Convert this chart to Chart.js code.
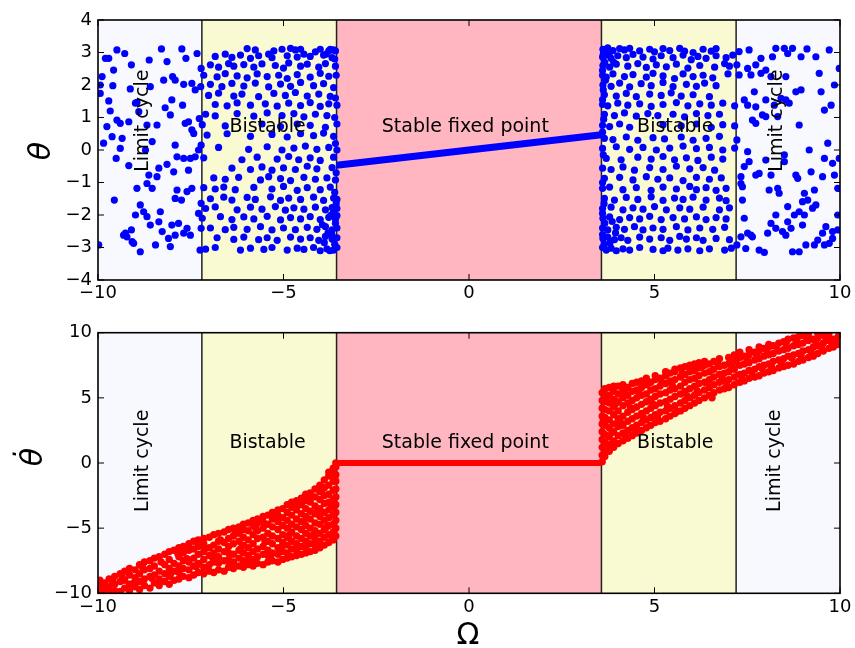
<!DOCTYPE html>
<html>
<head>
<meta charset="utf-8">
<script src="https://cdn.jsdelivr.net/npm/chart.js@4.4.1/dist/chart.umd.min.js"></script>
<style>
  html, body { margin: 0; padding: 0; background: #fff; }
  #wrap { position: relative; width: 855px; height: 648px; }
  canvas { position: absolute; left: 0; }
  #top { top: 0; }
  #bottom { top: 312px; }
</style>
</head>
<body>
<div id="wrap">
  <canvas id="top" width="855" height="312"></canvas>
  <canvas id="bottom" width="855" height="336"></canvas>
</div>
<script>
// regions along Omega
const regionEdges = [-10, -7.2, -3.57, 3.57, 7.2, 10];
const regionNames = ["Limit cycle", "Bistable", "Stable fixed point", "Bistable", "Limit cycle"];

const omegaTicks = [-10, -5, 0, 5, 10];
const thetaTicks = [-4, -3, -2, -1, 0, 1, 2, 3, 4];
const thetaDotTicks = [-10, -5, 0, 5, 10];

// top panel: theta as [Omega, theta]
const thetaLimitLeft = [
  [-9.80,2.82],[-9.71,2.82],[-9.49,3.08],[-9.28,2.97],[-9.10,2.62],[-8.62,2.77],[-8.29,3.11],[-8.14,2.72],[-7.74,3.11],[-7.63,2.82],[-7.33,2.97],[-7.22,2.51],
  [-9.89,2.26],[-9.58,2.46],[-9.94,2.00],[-9.60,1.98],[-9.13,1.88],[-8.95,1.47],[-8.59,1.95],[-8.23,2.15],[-7.99,2.26],[-7.92,2.15],[-7.69,2.02],[-7.47,2.05],[-7.38,1.85],[-7.23,1.95],
  [-9.71,1.51],[-9.67,1.20],[-9.94,1.74],[-9.17,0.87],[-9.49,0.92],[-9.40,0.82],[-9.76,0.72],[-9.85,0.21],[-9.62,0.41],[-9.35,0.36],[-9.40,0.05],[-9.51,-0.26],[-9.17,-0.48],
  [-8.99,1.44],[-8.68,0.77],[-8.41,0.77],[-8.19,1.30],[-8.01,1.54],[-8.05,1.08],[-7.72,1.38],[-7.65,0.82],[-7.56,0.87],[-7.42,0.51],[-7.47,0.62],[-7.27,0.97],
  [-8.90,1.18],[-8.54,0.26],[-8.72,0.00],[-8.36,-0.56],[-8.63,-0.77],[-8.41,-0.82],[-8.14,-0.44],[-7.96,-0.67],[-7.92,0.15],[-7.87,-0.21],[-7.69,-0.26],[-7.51,-0.26],
  [-7.38,-0.21],[-7.29,0.00],[-7.56,-0.62],[-7.47,-1.18],[-7.60,-1.28],[-7.87,-1.23],[-7.92,-1.49],[-7.75,-1.54],
  [-9.56,-1.54],[-8.95,-1.18],[-8.68,-1.03],[-8.54,-1.18],[-8.86,-1.69],[-8.77,-1.90],[-8.99,-2.00],[-8.68,-2.05],[-8.59,-2.31],[-8.32,-1.90],[-8.36,-2.21],[-8.27,-2.51],
  [-8.01,-2.31],[-7.83,-2.26],[-7.92,-2.62],[-7.69,-2.56],[-7.51,-2.62],[-7.60,-2.41],
  [-9.31,-2.62],[-9.26,-2.56],[-9.22,-2.67],[-9.10,-2.46],[-9.04,-2.87],[-9.08,-2.82],[-8.86,-3.13],[-8.45,-2.92],[-8.05,-2.97],[-8.10,-2.72],[-9.98,-2.92],
  [-7.22,0.15],[-7.22,-1.64],[-7.29,-1.95],[-7.22,-2.41],[-7.25,-3.08]
];

const thetaBistableLeft = [
  [-5.98,3.12],[-5.76,3.08],[-5.26,3.05],[-5.04,3.10],[-4.81,3.13],[-4.68,3.08],[-4.54,3.10],[-4.14,3.02],[-4.01,3.10],[-3.78,3.05],[-3.65,3.08],
  [-6.84,2.88],[-6.57,2.95],[-6.39,2.85],[-6.16,2.92],[-5.89,2.82],[-5.67,2.90],[-5.40,2.95],[-5.31,2.84],[-4.90,2.90],[-4.63,2.86],[-4.45,2.95],[-4.28,2.88],[-3.92,2.92],[-3.69,2.84],
  [-6.97,2.62],[-6.75,2.55],[-6.48,2.66],[-6.34,2.58],[-6.07,2.63],[-5.80,2.55],[-5.58,2.65],[-5.22,2.60],[-5.00,2.52],[-4.86,2.68],[-4.54,2.58],[-4.36,2.64],[-4.05,2.55],[-3.87,2.66],[-3.60,2.58],
  [-7.15,2.30],[-6.79,2.25],[-6.57,2.35],[-6.25,2.28],[-5.98,2.22],[-5.71,2.34],[-5.44,2.26],[-5.13,2.30],[-4.90,2.20],[-4.63,2.32],[-4.28,2.24],[-4.01,2.36],[-3.78,2.27],
  [-6.97,2.02],[-6.66,1.95],[-6.39,2.05],[-6.07,1.97],[-5.76,2.06],[-5.40,1.94],[-5.08,2.03],[-4.81,1.96],[-4.54,2.08],[-4.19,1.98],[-3.92,2.04],[-3.65,1.92],
  [-7.02,1.68],[-6.75,1.75],[-6.34,1.66],[-6.12,1.72],[-5.67,1.64],[-5.26,1.74],[-4.95,1.68],[-4.68,1.77],[-4.36,1.66],[-4.05,1.72],[-3.74,1.65],
  [-6.84,1.40],[-6.52,1.36],[-6.25,1.45],[-5.89,1.38],[-5.49,1.42],[-5.17,1.35],[-4.86,1.44],[-4.54,1.37],[-4.28,1.46],[-4.01,1.34],[-3.78,1.42],[-3.56,1.38],
  [-7.10,1.10],[-6.84,1.05],[-6.25,1.12],[-5.80,1.04],[-5.44,1.14],[-5.04,1.06],[-4.72,1.12],[-4.45,1.02],[-4.14,1.10],[-3.83,1.06],
  [-7.19,0.78],[-6.57,0.74],[-5.58,0.80],[-5.08,0.72],[-4.63,0.80],[-4.28,0.76],[-3.87,0.70],[-3.56,0.80],
  [-7.06,0.46],[-6.52,0.50],[-5.89,0.42],[-5.31,0.48],[-4.90,0.40],[-4.54,0.50],[-4.19,0.44],[-3.92,0.52],[-3.65,0.42],
  [-6.75,0.08],[-5.94,0.02],[-5.44,0.10],[-5.04,0.00],[-4.72,0.06],[-4.41,0.12],[-4.10,0.02],[-3.78,0.08],[-3.56,0.00],
  [-7.15,-0.24],[-6.12,-0.30],[-5.71,-0.22],[-5.17,-0.28],[-4.86,-0.20],[-4.59,-0.30],[-4.28,-0.24],[-4.01,-0.32],[-3.65,-0.22],
  [-6.39,-0.56],[-5.89,-0.60],[-5.58,-0.52],[-5.31,-0.62],[-5.00,-0.55],[-4.68,-0.60],[-4.36,-0.50],[-4.10,-0.58],[-3.69,-0.54],
  [-6.88,-0.86],[-6.57,-0.90],[-6.21,-0.84],[-5.62,-0.92],[-5.40,-0.82],[-5.08,-0.88],[-4.81,-0.94],[-4.45,-0.84],[-4.14,-0.90],[-3.83,-0.86],[-3.60,-0.92],
  [-7.15,-1.16],[-6.84,-1.20],[-6.61,-1.14],[-6.30,-1.22],[-5.80,-1.15],[-5.31,-1.20],[-5.00,-1.12],[-4.63,-1.24],[-4.36,-1.16],[-4.01,-1.22],[-3.74,-1.14],
  [-6.97,-1.50],[-6.61,-1.45],[-6.39,-1.54],[-5.98,-1.46],[-5.76,-1.52],[-5.35,-1.44],[-5.08,-1.55],[-4.86,-1.48],[-4.54,-1.52],[-4.19,-1.45],[-3.92,-1.55],[-3.65,-1.48],[-3.56,-1.52],
  [-7.10,-1.80],[-6.84,-1.75],[-6.25,-1.84],[-5.89,-1.76],[-5.58,-1.82],[-5.22,-1.74],[-4.95,-1.85],[-4.72,-1.78],[-4.45,-1.82],[-4.14,-1.76],[-3.87,-1.84],[-3.69,-1.77],[-3.56,-1.80],
  [-7.19,-2.10],[-6.70,-2.05],[-6.39,-2.14],[-6.07,-2.06],[-5.80,-2.12],[-5.44,-2.04],[-5.08,-2.15],[-4.81,-2.08],[-4.54,-2.12],[-4.28,-2.05],[-4.01,-2.14],[-3.78,-2.07],[-3.60,-2.12],[-3.56,-2.02],
  [-6.97,-2.40],[-6.57,-2.45],[-6.34,-2.38],[-5.98,-2.44],[-5.62,-2.36],[-5.31,-2.46],[-5.00,-2.40],[-4.68,-2.45],[-4.36,-2.38],[-4.10,-2.44],[-3.87,-2.36],[-3.69,-2.46],[-3.56,-2.40],
  [-6.79,-2.70],[-6.34,-2.75],[-6.07,-2.68],[-5.67,-2.76],[-5.44,-2.70],[-5.17,-2.78],[-4.81,-2.68],[-4.54,-2.74],[-4.28,-2.70],[-4.05,-2.78],[-3.87,-2.66],[-3.69,-2.74],[-3.56,-2.70],
  [-7.10,-3.05],[-6.84,-3.00],[-6.16,-3.08],[-5.89,-3.02],[-5.53,-3.06],[-5.31,-3.00],[-4.90,-3.08],[-4.63,-3.02],[-4.45,-3.06],[-4.19,-3.00],[-4.01,-3.10],[-3.83,-3.04],[-3.65,-3.08],[-3.56,-3.00],
  [-3.62,-2.90],[-3.70,-2.60],[-3.60,-2.25],[-3.66,-1.95],[-3.58,-1.65],[-3.62,-1.30],[-3.58,-0.70],[-3.60,0.20],[-3.62,1.00],[-3.60,1.60],[-3.58,2.30],[-3.62,2.80],
  [-3.60,3.05],[-3.75,-3.10],[-3.90,-2.85],[-3.80,-2.55],[-3.95,-2.30],[-3.72,-2.00],[-3.85,2.95],[-3.74,3.10]
];

const thetaBistableRight = [
  [3.61,3.10],[3.74,3.14],[3.88,3.06],[4.06,3.12],[4.19,3.08],[4.33,3.13],[4.60,3.05],[4.87,3.10],[5.00,3.02],[5.23,3.12],[5.41,3.06],[5.68,3.13],[5.81,3.04],[6.04,3.00],[6.31,3.10],[6.53,3.04],[6.66,3.12],
  [3.60,2.86],[3.70,2.92],[3.83,2.82],[4.01,2.90],[4.24,2.84],[4.42,2.94],[4.69,2.86],[4.96,2.80],[5.18,2.90],[5.50,2.84],[5.77,2.92],[5.99,2.78],[6.17,2.88],[6.39,2.82],[6.66,2.90],[6.93,2.84],[7.11,2.92],
  [3.61,2.60],[3.79,2.55],[3.97,2.64],[4.28,2.58],[4.55,2.66],[4.78,2.54],[5.05,2.62],[5.32,2.56],[5.59,2.64],[5.90,2.52],[6.22,2.60],[6.62,2.55],[6.89,2.66],[7.02,2.58],
  [3.60,2.30],[3.70,2.24],[3.88,2.34],[4.19,2.26],[4.42,2.32],[4.78,2.24],[4.96,2.36],[5.23,2.28],[5.54,2.20],[5.77,2.34],[6.04,2.26],[6.31,2.30],[6.57,2.22],[6.98,2.34],
  [3.61,2.00],[3.83,1.96],[4.06,2.06],[4.33,1.94],[4.64,2.04],[4.91,1.98],[5.23,2.08],[5.50,1.95],[5.86,2.02],[6.13,1.96],[6.35,2.06],[6.66,1.98],
  [3.65,1.70],[3.97,1.66],[4.24,1.74],[4.51,1.64],[4.87,1.72],[5.18,1.68],[5.45,1.76],[5.72,1.66],[6.04,1.70],[6.48,1.64],
  [3.60,1.40],[3.74,1.36],[4.01,1.44],[4.28,1.38],[4.60,1.42],[4.91,1.34],[5.23,1.40],[5.59,1.46],[5.90,1.36],[6.22,1.42],[6.53,1.38],[6.84,1.44],[7.16,1.36],
  [3.65,1.10],[3.92,1.06],[4.19,1.14],[4.51,1.04],[4.82,1.12],[5.09,1.06],[5.50,1.10],[5.81,1.02],[6.13,1.12],[6.44,1.06],[6.75,1.10],
  [3.60,0.76],[3.79,0.72],[4.06,0.80],[4.33,0.70],[5.23,0.78],[5.72,0.74],[6.13,0.80],[6.53,0.70],[6.84,0.78],[7.16,0.74],
  [3.65,0.36],[3.88,0.32],[4.24,0.40],[4.55,0.30],[4.96,0.38],[5.27,0.34],[5.72,0.40],[6.04,0.30],[6.39,0.36],[6.75,0.42],
  [3.60,0.05],[3.97,0.10],[4.33,0.02],[4.69,0.08],[5.05,0.00],[5.41,0.06],[5.77,0.12],[6.13,0.04],[6.48,0.08],[6.84,0.00],[7.16,0.06],
  [3.70,-0.26],[4.10,-0.30],[4.55,-0.22],[4.91,-0.28],[5.23,-0.20],[5.54,-0.30],[5.86,-0.24],[6.17,-0.32],[6.53,-0.22],[6.84,-0.28],
  [3.60,-0.56],[3.83,-0.60],[4.15,-0.52],[4.46,-0.62],[4.87,-0.54],[5.23,-0.60],[5.59,-0.50],[5.95,-0.58],[6.31,-0.54],[6.62,-0.62],
  [3.65,-0.87],[4.06,-0.84],[4.42,-0.92],[4.78,-0.82],[5.09,-0.90],[5.41,-0.86],[5.77,-0.94],[6.13,-0.84],[6.48,-0.90],[6.80,-0.86],
  [3.60,-1.18],[3.79,-1.14],[4.15,-1.22],[4.51,-1.16],[4.91,-1.24],[5.23,-1.14],[5.59,-1.20],[5.95,-1.12],[6.13,-1.22],[6.39,-1.16],[6.66,-1.24],[6.93,-1.18],
  [3.65,-1.49],[3.92,-1.54],[4.24,-1.46],[4.55,-1.52],[4.91,-1.44],[5.23,-1.55],[5.54,-1.48],[5.77,-1.52],[6.04,-1.45],[6.39,-1.54],[6.75,-1.48],[6.93,-1.56],
  [3.60,-1.80],[3.83,-1.76],[4.15,-1.84],[4.42,-1.78],[4.69,-1.82],[5.00,-1.74],[5.32,-1.84],[5.68,-1.78],[5.95,-1.82],[6.31,-1.76],[6.75,-1.84],[7.02,-1.78],
  [3.61,-2.10],[3.79,-2.06],[4.06,-2.14],[4.33,-2.08],[4.60,-2.12],[4.87,-2.04],[5.18,-2.14],[5.50,-2.08],[5.81,-2.12],[6.13,-2.06],[6.39,-2.14],[6.66,-2.08],[6.93,-2.12],
  [3.60,-2.40],[3.74,-2.46],[3.97,-2.38],[4.19,-2.44],[4.46,-2.36],[4.69,-2.46],[4.96,-2.40],[5.23,-2.44],[5.59,-2.36],[5.90,-2.46],[6.22,-2.40],[6.57,-2.44],[6.89,-2.38],
  [3.61,-2.72],[3.74,-2.68],[3.92,-2.76],[4.10,-2.70],[4.28,-2.78],[4.60,-2.68],[4.87,-2.74],[5.18,-2.70],[5.41,-2.78],[5.68,-2.66],[5.86,-2.74],[6.13,-2.70],[6.31,-2.78],[6.66,-2.72],[7.02,-2.76],
  [3.60,-3.00],[3.70,-3.08],[3.83,-3.02],[3.97,-3.10],[4.15,-3.04],[4.33,-3.08],[4.60,-3.00],[4.96,-3.06],[5.23,-3.10],[5.36,-3.02],[5.63,-3.08],[5.90,-3.04],[6.22,-3.10],[6.48,-3.04],[6.89,-3.08],[7.07,-3.02],
  [3.62,2.95],[3.66,2.70],[3.60,2.45],[3.68,2.15],[3.62,1.85],[3.60,1.55],[3.63,0.95],[3.60,0.55],[3.62,-0.15],[3.60,-1.00],[3.64,-1.65],[3.60,-1.95],[3.66,-2.25],
  [3.60,-2.60],[3.65,-2.90],[3.78,2.98],[3.90,2.70],[3.80,-2.85],[3.95,-2.55],[3.86,-2.20]
];

const thetaLimitRight = [
  [7.28,3.03],[7.55,3.08],[7.73,2.62],[7.87,2.82],[8.00,2.46],[8.18,2.87],[8.27,3.13],[8.50,3.13],[8.59,2.97],[8.72,3.13],[8.95,2.87],[9.11,3.11],[9.35,2.87],[9.71,3.08],[9.98,2.51],[7.22,2.62],
  [7.51,2.51],[7.60,2.31],[7.28,2.31],[7.87,2.36],[8.14,2.26],[8.54,2.26],[8.95,1.85],[8.81,1.79],[9.44,2.36],[9.49,1.79],[9.85,2.00],
  [7.42,1.54],[7.51,1.38],[7.69,1.79],[7.73,1.33],[8.00,1.54],[8.23,1.38],[8.54,1.54],[8.63,1.44],[8.41,1.59],
  [7.64,0.92],[7.73,0.82],[7.91,1.08],[8.00,1.03],[8.32,1.03],[8.90,0.77],[9.58,1.23],[9.76,1.38],
  [7.22,0.31],[7.51,-0.05],[7.55,-0.36],[7.42,-0.51],[7.33,-0.82],[8.00,-0.31],[8.50,-0.15],[8.50,-0.36],[9.17,0.00],[9.67,0.21],[9.58,-0.26],[9.80,-0.41],[9.98,-0.26],
  [7.82,-0.72],[7.73,-0.77],[8.14,-0.77],[8.81,-0.77],[8.86,-0.87],[9.22,-0.67],[9.53,-0.82],[9.85,-0.77],[7.33,-1.03],[7.37,-1.13],
  [8.09,-1.23],[8.32,-1.18],[8.36,-1.33],[9.04,-1.33],[9.31,-1.23],[8.99,-1.59],[9.13,-1.54],[9.26,-1.79],[9.35,-1.69],[9.94,-1.18],
  [7.37,-1.54],[7.42,-2.10],[8.27,-2.00],[8.59,-1.74],[8.77,-2.00],[8.90,-1.90],[9.04,-2.00],[8.99,-2.31],[8.59,-2.21],[8.68,-2.41],[8.14,-2.26],[8.27,-2.41],
  [7.33,-2.67],[7.60,-2.62],[7.51,-2.56],[7.64,-2.67],[8.05,-2.56],[8.45,-2.51],[8.54,-2.62],[9.53,-2.56],[9.80,-2.51],[9.62,-2.36],[9.94,-2.00],[9.94,-2.46],
  [7.46,-3.03],[7.82,-3.08],[7.96,-3.15],[8.72,-3.13],[8.90,-3.13],[9.08,-2.92],[9.31,-2.92],[9.40,-2.77],[9.58,-2.92],[9.71,-2.87],[9.80,-2.72],[7.22,-2.92]
];

// stable fixed point branch
const thetaStable = [[-3.57,-0.47],[0,0],[3.57,0.47]];
const thetaDotStable = [[-3.57,0],[3.57,0]];

// bottom panel: theta dot, columns of [Omega, [values...]]
const thetaDotLeft = [
  [-9.95,[-9.9,-9.4,-9.0]],[-9.82,[-9.7,-9.2]],[-9.70,[-9.95,-9.5,-8.9]],[-9.55,[-9.8,-9.3,-8.7]],
  [-9.40,[-9.85,-9.1,-8.5]],[-9.28,[-9.6,-9.0,-8.3]],[-9.15,[-9.8,-9.3,-8.6,-8.1]],[-9.00,[-9.5,-8.8,-8.2]],
  [-8.88,[-9.7,-9.1,-8.5,-7.8]],[-8.75,[-9.4,-8.9,-8.2,-7.6]],[-8.60,[-9.6,-8.7,-8.1,-7.5]],[-8.48,[-9.2,-8.6,-7.9,-7.3]],
  [-8.35,[-9.4,-8.9,-8.3,-7.2]],[-8.20,[-9.1,-8.5,-7.8,-7.0]],[-8.08,[-9.3,-8.7,-8.1,-7.4,-6.8]],[-7.95,[-9.0,-8.3,-7.7,-6.7]],
  [-7.82,[-8.9,-8.4,-7.9,-7.2,-6.5]],[-7.70,[-8.7,-8.1,-7.5,-6.9,-6.4]],[-7.55,[-8.8,-8.2,-7.6,-6.7,-6.2]],[-7.42,[-8.6,-7.9,-7.3,-6.6,-6.0]],
  [-7.30,[-8.4,-7.7,-7.0,-6.4,-5.9]],[-7.15,[-8.5,-8.0,-7.4,-6.8,-6.2,-5.8]],[-7.00,[-8.3,-7.8,-7.1,-6.5,-5.7]],[-6.88,[-8.4,-7.6,-6.9,-6.3,-5.5]],
  [-6.75,[-8.2,-7.7,-7.2,-6.6,-6.0,-5.4]],[-6.60,[-8.3,-7.5,-6.8,-6.1,-5.3]],[-6.48,[-8.0,-7.4,-6.9,-6.4,-5.8,-5.1]],[-6.35,[-8.1,-7.6,-7.0,-6.2,-5.6,-5.0]],
  [-6.20,[-7.9,-7.3,-6.7,-6.0,-5.4,-4.9]],[-6.08,[-8.0,-7.5,-6.9,-6.3,-5.7,-5.1,-4.7]],[-5.95,[-7.8,-7.1,-6.5,-5.9,-5.2,-4.6]],[-5.82,[-7.9,-7.4,-6.8,-6.2,-5.5,-4.8,-4.4]],
  [-5.70,[-7.7,-7.2,-6.6,-5.8,-5.2,-4.6,-4.3]],[-5.55,[-7.8,-7.0,-6.4,-5.7,-5.0,-4.5,-4.1]],[-5.42,[-7.6,-7.1,-6.7,-6.0,-5.4,-4.7,-4.0]],[-5.30,[-7.5,-6.9,-6.2,-5.6,-4.9,-4.3,-3.8]],
  [-5.15,[-7.6,-7.0,-6.5,-5.8,-5.1,-4.5,-4.0,-3.6]],[-5.02,[-7.4,-6.8,-6.1,-5.5,-4.8,-4.2,-3.5]],[-4.90,[-7.3,-6.9,-6.3,-5.7,-5.0,-4.4,-3.8,-3.2]],[-4.78,[-7.2,-6.6,-6.0,-5.3,-4.7,-4.0,-3.4,-3.0]],
  [-4.65,[-7.1,-6.7,-6.2,-5.6,-4.9,-4.3,-3.6,-2.9]],[-4.52,[-7.0,-6.4,-5.8,-5.1,-4.5,-3.9,-3.2,-2.7]],[-4.40,[-6.9,-6.5,-6.0,-5.4,-4.8,-4.1,-3.5,-2.9,-2.4]],[-4.28,[-6.8,-6.2,-5.6,-5.0,-4.3,-3.7,-3.0,-2.3]],
  [-4.15,[-6.7,-6.3,-5.8,-5.2,-4.6,-3.9,-3.3,-2.6,-2.0]],[-4.02,[-6.5,-6.0,-5.4,-4.7,-4.1,-3.5,-2.8,-2.2,-1.7]],[-3.90,[-6.3,-5.7,-5.1,-4.4,-3.8,-3.1,-2.5,-1.9,-1.3]],
  [-3.78,[-6.1,-5.5,-4.8,-4.2,-3.6,-3.0,-2.4,-1.7,-1.0,-0.7]],[-3.66,[-5.9,-5.3,-4.7,-4.0,-3.4,-2.8,-2.1,-1.4,-0.8,-0.4]],[-3.59,[-5.6,-5.0,-4.4,-3.8,-3.2,-2.6,-2.0,-1.4,-0.9,-0.3,0.0]]
];
const thetaDotLeftLoose = [
  [-9.60,-9.1],[-9.35,-8.7],[-9.05,-9.25],[-8.80,-8.0],[-8.55,-8.85],[-8.30,-7.6],[-8.05,-8.55],[-7.85,-6.95],[-7.60,-7.35],[-7.35,-7.95],[-7.10,-6.55],
  [-6.90,-7.35],[-6.70,-5.9],[-6.45,-7.65],[-6.30,-5.35],[-6.15,-6.55],[-5.90,-7.45],[-5.75,-5.0],[-5.50,-6.05],[-5.35,-7.2],[-5.20,-4.3],[-5.05,-6.45],
  [-4.85,-5.55],[-4.70,-3.3],[-4.60,-6.45],[-4.45,-4.55],[-4.33,-2.65],[-4.20,-5.55],[-4.08,-3.65],[-3.95,-2.0],[-3.85,-4.95],[-3.72,-3.3],[-3.62,-1.15],[-3.70,-5.65]
];

const thetaDotRight = [
  [3.59,[0.1,0.6,1.2,1.8,2.4,3.0,3.6,4.2,4.8,5.4]],[3.66,[0.5,1.0,1.6,2.2,2.9,3.5,4.1,4.7,5.3,5.7]],[3.78,[0.9,1.4,2.0,2.7,3.3,4.0,4.6,5.2,5.8]],
  [3.90,[1.2,1.7,2.4,3.0,3.7,4.3,4.9,5.5,5.9]],[4.02,[1.5,2.1,2.8,3.4,4.0,4.7,5.3,5.9]],[4.15,[1.7,2.3,2.9,3.6,4.4,5.0,5.6,6.0]],
  [4.28,[1.9,2.5,3.2,3.9,4.6,5.2,5.8]],[4.40,[2.1,2.7,3.4,4.1,4.8,5.5,6.1]],[4.52,[2.3,2.9,3.6,4.3,5.0,5.6,6.2]],
  [4.65,[2.5,3.1,3.8,4.5,5.2,5.8,6.3]],[4.78,[2.7,3.3,4.0,4.7,5.3,6.0,6.5]],[4.90,[2.9,3.5,4.2,4.9,5.6,6.2]],
  [5.02,[3.1,3.7,4.4,5.1,5.7,6.4,6.7]],[5.15,[3.2,3.9,4.6,5.3,5.9,6.5]],[5.30,[3.4,4.0,4.7,5.4,6.1,6.7,7.0]],
  [5.42,[3.6,4.2,4.9,5.6,6.3,6.9]],[5.55,[3.8,4.4,5.1,5.7,6.4,7.0,7.2]],[5.70,[4.0,4.6,5.3,5.9,6.6,7.3]],
  [5.82,[4.2,4.8,5.5,6.2,6.8,7.4]],[5.95,[4.4,5.0,5.7,6.4,7.0,7.5]],[6.08,[4.6,5.2,5.9,6.5,7.1,7.6]],
  [6.20,[4.8,5.4,6.1,6.7,7.3,7.7]],[6.35,[5.0,5.6,6.2,6.9,7.5,7.8]],[6.48,[5.2,5.8,6.4,7.0,7.6]],
  [6.60,[5.4,6.0,6.6,7.2,7.8]],[6.75,[5.6,6.2,6.8,7.4,8.0]],[6.88,[5.7,6.3,6.9,7.5]],
  [7.00,[5.8,6.4,7.0,7.6,8.1]],[7.15,[6.0,6.6,7.2,7.8,8.3]],[7.30,[6.2,6.8,7.5,8.1,8.5]],
  [7.42,[6.3,6.9,7.6,8.2]],[7.55,[6.5,7.1,7.7,8.3,8.7]],[7.70,[6.6,7.2,7.9,8.5]],
  [7.82,[6.7,7.4,8.0,8.6,8.9]],[7.95,[6.9,7.5,8.2,8.8]],[8.08,[7.0,7.6,8.3,8.9,9.1]],
  [8.20,[7.1,7.8,8.4,9.0]],[8.35,[7.3,7.9,8.6,9.2]],[8.48,[7.4,8.0,8.7,9.3]],
  [8.60,[7.5,8.2,8.8,9.5]],[8.75,[7.6,8.3,9.0,9.6]],[8.88,[7.8,8.4,9.1,9.7]],
  [9.00,[7.9,8.6,9.2,9.8]],[9.15,[8.1,8.7,9.4,9.9]],[9.28,[8.2,8.9,9.5]],
  [9.40,[8.4,9.0,9.6,9.95]],[9.55,[8.6,9.2,9.8]],[9.70,[8.8,9.4,9.9]],
  [9.82,[8.9,9.5]],[9.95,[9.1,9.7]]
];
const thetaDotRightLoose = [
  [3.62,3.3],[3.70,5.0],[3.72,1.3],[3.85,2.35],[3.95,4.55],[4.08,3.15],[4.20,5.35],[4.22,2.0],[4.35,4.25],[4.47,2.5],[4.58,5.4],[4.70,3.5],
  [4.85,6.15],[4.95,4.55],[5.08,3.5],[5.20,6.2],[5.35,4.35],[5.48,5.95],[5.60,3.95],[5.75,6.9],[5.88,5.15],[6.02,7.25],[6.15,5.55],[6.28,7.4],
  [6.42,6.15],[6.55,5.0],[6.70,7.65],[6.82,6.55],[6.95,5.95],[7.08,7.45],[7.22,8.0],[7.35,6.6],[7.50,7.95],[7.62,7.0],[7.75,8.35],[7.90,7.25],
  [8.02,8.65],[8.15,7.45],[8.28,8.95],[8.42,7.65],[8.55,9.15],[8.70,8.05],[8.82,9.4],[8.95,8.25],[9.10,9.6],[9.22,8.55],[9.35,9.3],[9.50,8.9],
  [9.62,9.6],[9.78,9.2],[9.90,9.45]
];

const regionColors = ["#f8f8ff", "#fafad2", "#ffb6c1", "#fafad2", "#f8f8ff"];
const FONT = '"DejaVu Sans", "Liberation Sans", sans-serif';

function pairs(list) {
  return list.map(([x, y]) => ({ x, y }));
}
function columns(list) {
  return list.flatMap(([x, ys]) => ys.map((y) => ({ x, y })));
}
function minus(v) {
  return String(v).replace("-", "\u2212");
}

// region fills, captions, frame, inward ticks, axis titles
const regionPlugin = {
  id: "regions",
  beforeDatasetsDraw(chart) {
    const { ctx, chartArea: a, scales: { x } } = chart;
    ctx.save();
    for (let i = 0; i < regionNames.length; i++) {
      const x0 = x.getPixelForValue(regionEdges[i]);
      const x1 = x.getPixelForValue(regionEdges[i + 1]);
      ctx.fillStyle = regionColors[i];
      ctx.fillRect(x0, a.top, x1 - x0, a.bottom - a.top);
    }
    ctx.strokeStyle = "#222";
    ctx.lineWidth = 1.5;
    for (let i = 1; i < regionEdges.length - 1; i++) {
      const px = x.getPixelForValue(regionEdges[i]);
      ctx.beginPath();
      ctx.moveTo(px, a.top);
      ctx.lineTo(px, a.bottom);
      ctx.stroke();
    }
    ctx.restore();
  },
  afterDatasetsDraw(chart, args, opts) {
    const { ctx, chartArea: a, scales: { x, y } } = chart;
    ctx.save();
    ctx.fillStyle = "#000";
    ctx.font = "19px " + FONT;
    ctx.textAlign = "center";
    ctx.textBaseline = "middle";
    opts.captions.forEach(([cx, cy, vertical], i) => {
      const px = x.getPixelForValue(cx);
      const py = y.getPixelForValue(cy);
      ctx.save();
      ctx.translate(px, py);
      if (vertical) ctx.rotate(-Math.PI / 2);
      ctx.fillText(regionNames[i], 0, 0);
      ctx.restore();
    });

    // frame
    ctx.strokeStyle = "#000";
    ctx.lineWidth = 1.6;
    ctx.strokeRect(a.left, a.top, a.right - a.left, a.bottom - a.top);

    // ticks pointing inwards on all sides
    ctx.lineWidth = 1;
    x.ticks.forEach((t) => {
      const px = x.getPixelForValue(t.value);
      ctx.beginPath();
      ctx.moveTo(px, a.bottom); ctx.lineTo(px, a.bottom - 6);
      ctx.moveTo(px, a.top); ctx.lineTo(px, a.top + 6);
      ctx.stroke();
    });
    y.ticks.forEach((t) => {
      const py = y.getPixelForValue(t.value);
      ctx.beginPath();
      ctx.moveTo(a.left, py); ctx.lineTo(a.left + 6, py);
      ctx.moveTo(a.right, py); ctx.lineTo(a.right - 6, py);
      ctx.stroke();
    });

    // axis titles
    if (opts.yTitle) {
      ctx.save();
      ctx.font = "italic 30px " + FONT;
      ctx.translate(opts.yTitle.x, opts.yTitle.y);
      ctx.rotate(-Math.PI / 2);
      ctx.fillText(opts.yTitle.text, 0, 0);
      ctx.restore();
    }
    if (opts.xTitle) {
      ctx.font = "30px " + FONT;
      ctx.fillText(opts.xTitle.text, opts.xTitle.x, opts.xTitle.y);
    }
    ctx.restore();
  }
};

function dots(data, color, r) {
  return {
    data,
    showLine: false,
    pointRadius: r,
    pointBorderWidth: 0,
    pointBackgroundColor: color,
    pointBorderColor: color
  };
}
function branch(data, color, width) {
  return {
    data,
    showLine: true,
    pointRadius: 0,
    borderColor: color,
    borderWidth: width,
    borderCapStyle: "butt"
  };
}

function makeChart(id, datasets, yTicks, padTop, xAxisHeight, deco) {
  return new Chart(document.getElementById(id), {
    type: "scatter",
    data: { datasets },
    options: {
      responsive: false,
      animation: false,
      events: [],
      devicePixelRatio: 1,
      layout: { padding: { top: padTop, right: 15, left: 0, bottom: 0 } },
      plugins: { legend: { display: false }, tooltip: { enabled: false }, regions: deco },
      scales: {
        x: {
          type: "linear",
          min: omegaTicks[0],
          max: omegaTicks[omegaTicks.length - 1],
          afterBuildTicks: (s) => { s.ticks = omegaTicks.map((v) => ({ value: v })); },
          ticks: { color: "#000", font: { family: FONT, size: 18 }, padding: 3, maxRotation: 0, autoSkip: false, callback: minus },
          grid: { display: false, drawTicks: false },
          border: { display: false },
          afterFit: (s) => { s.height = xAxisHeight; }
        },
        y: {
          type: "linear",
          min: yTicks[0],
          max: yTicks[yTicks.length - 1],
          afterBuildTicks: (s) => { s.ticks = yTicks.map((v) => ({ value: v })); },
          ticks: { color: "#000", font: { family: FONT, size: 18 }, padding: 6, autoSkip: false, callback: minus },
          grid: { display: false, drawTicks: false },
          border: { display: false },
          afterFit: (s) => { s.width = 98; }
        }
      }
    },
    plugins: [regionPlugin]
  });
}

makeChart("top", [
  branch(pairs(thetaStable), "#0000ff", 7),
  dots(pairs(thetaLimitLeft), "#0000ff", 3.6),
  dots(pairs(thetaBistableLeft), "#0000ff", 3.6),
  dots(pairs(thetaBistableRight), "#0000ff", 3.6),
  dots(pairs(thetaLimitRight), "#0000ff", 3.6)
], thetaTicks, 20, 32, {
  captions: [[-8.78, 0.9, true], [-5.43, 0.72, false], [-0.1, 0.72, false], [5.56, 0.72, false], [8.3, 0.9, true]],
  yTitle: { text: "\u03b8", x: 42, y: 151 }
});

makeChart("bottom", [
  branch(pairs(thetaDotStable), "#ff0000", 6),
  dots(columns(thetaDotLeft), "#ff0000", 3.7),
  dots(pairs(thetaDotLeftLoose), "#ff0000", 3.7),
  dots(columns(thetaDotRight), "#ff0000", 3.7),
  dots(pairs(thetaDotRightLoose), "#ff0000", 3.7)
], thetaDotTicks, 20.7, 54.7, {
  captions: [[-8.78, 0.17, true], [-5.43, 1.51, false], [-0.1, 1.51, false], [5.56, 1.51, false], [8.25, 0.17, true]],
  yTitle: { text: "\u03b8\u0307", x: 34, y: 145 },
  xTitle: { text: "\u03a9", x: 468, y: 324 }
});
</script>
</body>
</html>
